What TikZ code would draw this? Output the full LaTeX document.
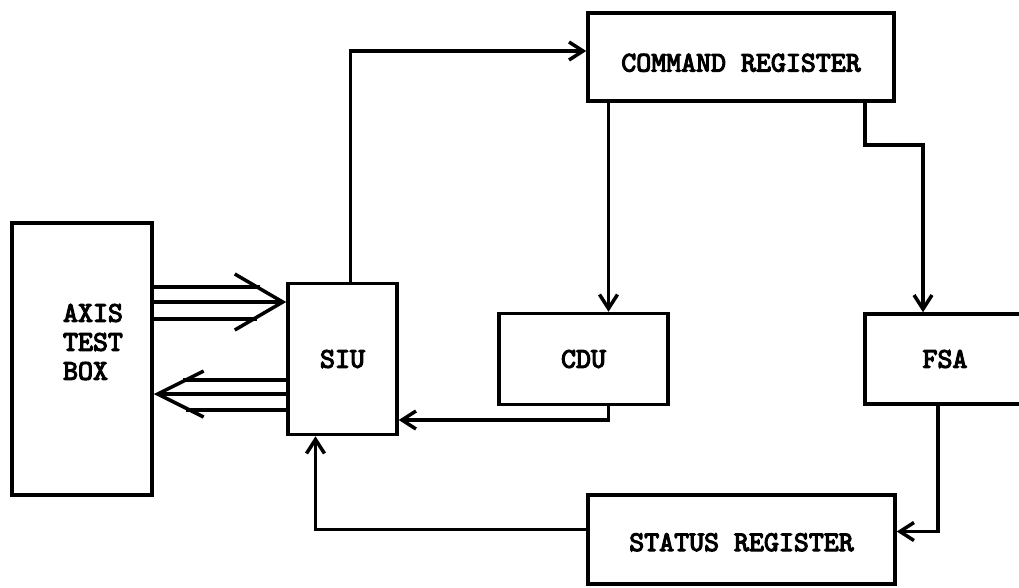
\documentclass[tikz,border=0pt]{standalone}
\usepackage{fontspec}
\newfontfamily\boxfont{lmmono10-regular.otf}[FakeBold=4]
\usetikzlibrary{positioning,calc,arrows.meta}

\begin{document}
\begin{tikzpicture}[x=1pt,y=-1pt,
    wire/.style={line width=3.5pt},
    arr/.style={wire,-{Straight Barb[length=14pt,width=18pt]}},
    box/.style={draw,rectangle,line width=3.5pt,inner sep=0pt,
        font=\boxfont\bfseries\fontsize{28.5}{29}\selectfont}]
    \useasboundingbox (0,0) rectangle (1019,587);
    % blocks
    \node[box,minimum width=140pt,minimum height=272pt,
        label={[font=\boxfont\bfseries\fontsize{28.5}{29}\selectfont,align=left,
        xshift=11pt,yshift=17pt]center:AXIS\\TEST\\BOX}](axis) at (82,359){};
    \node[box,minimum width=109pt,minimum height=151pt,node distance=132.5pt](siu)[right =of axis]{SIU};
    \node[box,minimum width=169pt,minimum height=91pt,node distance=98.5pt](cdu)[right =of siu]{CDU};
    \node[box,minimum width=160pt,minimum height=90pt,node distance=193.5pt](fsa)[right =of cdu]{FSA};
    \node[box,minimum width=306pt,minimum height=88pt,text height=29pt,text depth=0pt](cmd) at (741,57){COMMAND REGISTER};
    \node[box,minimum width=307pt,minimum height=89pt,text height=23pt,text depth=0pt](status) at (741.5,539.5){STATUS REGISTER};
    % axis test box <-> siu
    \coordinate (in1) at ($(siu.west)+(-26,-72)$);
    \coordinate (in2) at ($(siu.west)+(0,-57)$);
    \coordinate (in3) at ($(siu.west)+(-29,-40)$);
    \draw[wire](axis.east |- in1) -- (in1);
    \draw[wire,-{Straight Barb[length=48pt,width=56pt]}](axis.east |- in2) -- (in2);
    \draw[wire](axis.east |- in3) -- (in3);
    \coordinate (out1) at ($(axis.east)+(29,21)$);
    \coordinate (out2) at ($(axis.east)+(0,35)$);
    \coordinate (out3) at ($(axis.east)+(32,51)$);
    \draw[wire](siu.west |- out1) -- (out1);
    \draw[wire,-{Straight Barb[length=46pt,width=46pt]}](siu.west |- out2) -- (out2);
    \draw[wire](siu.west |- out3) -- (out3);
    % loop
    \coordinate (cduin) at ([xshift=25pt]cdu.north);
    \coordinate (fsain) at ([xshift=-22pt]fsa.north);
    \draw[arr]([xshift=8pt]siu.north) |- ([yshift=6pt]cmd.west);
    \draw[arr](cmd.south -| cduin) -- (cduin);
    \draw[arr]([xshift=124pt]cmd.south) -- ++(0,42) -| (fsain);
    \draw[arr]([xshift=25pt]cdu.south) |- ($(siu.east)+(0,61)$);
    \draw[arr]([xshift=-7pt]fsa.south) |- ([yshift=8pt]status.east);
    \draw[arr]([yshift=10pt]status.west) -| ([xshift=-27pt]siu.south);
\end{tikzpicture}
\end{document}
